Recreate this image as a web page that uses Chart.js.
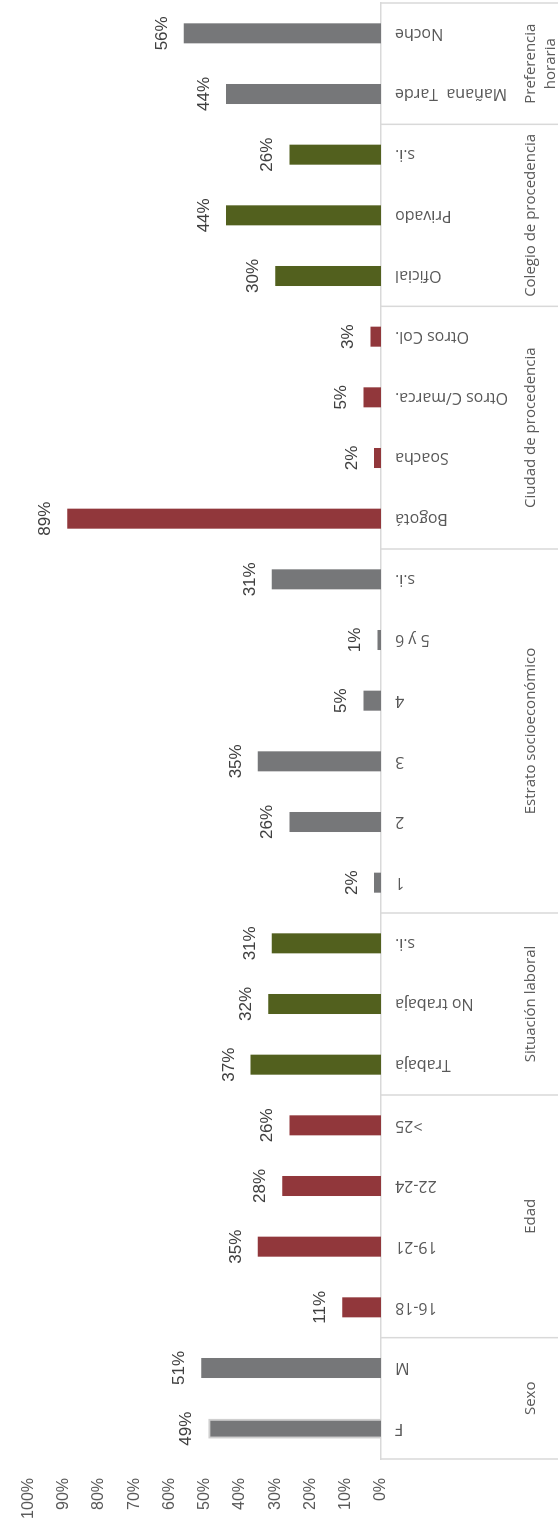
<!DOCTYPE html>
<html>
<head>
<meta charset="utf-8">
<script src="https://cdn.jsdelivr.net/npm/chart.js@4.4.0/dist/chart.umd.min.js"></script>
<style>
  html, body { margin: 0; padding: 0; overflow: hidden; background: #fff; width: 558px; height: 1529px; }
  /* el gráfico original es de columnas; la imagen está girada 90° a la izquierda */
  #marco { position: absolute; left: 0; top: 0; width: 1529px; height: 558px;
           transform-origin: 0 0; transform: translate(0, 1529px) rotate(-90deg); }
</style>
</head>
<body>
<div id="marco"><canvas id="graficoPerfil" width="1529" height="558"></canvas></div>
<script>
// Datos
const categorias = ['F', 'M', '16-18', '19-21', '22-24', '>25', 'Trabaja', 'No trabaja', 's.i.',
  '1', '2', '3', '4', '5 y 6', 's.i.', 'Bogotá', 'Soacha', 'Otros C/marca.', 'Otros Col.',
  'Oficial', 'Privado', 's.i.', 'Mañana  Tarde', 'Noche'];
const valores = [49, 51, 11, 35, 28, 26, 37, 32, 31, 2, 26, 35, 5, 1, 31, 89, 2, 5, 3, 30, 44, 26, 44, 56];
const grupos = ['Sexo', 'Edad', 'Situación laboral', 'Estrato socioeconómico',
  'Ciudad de procedencia', 'Colegio de procedencia', ['Preferencia', 'horaria']];
const tamanoGrupos = [2, 4, 3, 6, 4, 3, 2];
const ticksEje = [0, 10, 20, 30, 40, 50, 60, 70, 80, 90, 100];

const GRIS = '#767779', ROJO = '#91373b', VERDE = '#52601e';
const coloresGrupos = [GRIS, ROJO, VERDE, GRIS, ROJO, VERDE, GRIS];

// un color por barra según su grupo
const coloresBarras = [];
tamanoGrupos.forEach((n, g) => { for (let i = 0; i < n; i++) coloresBarras.push(coloresGrupos[g]); });
const bordes = valores.map((v, i) => i === 0 ? '#cfcfcf' : coloresBarras[i]);
const anchoBorde = valores.map((v, i) => i === 0 ? 2 : 0);

// Etiquetas de valor sobre cada columna
const etiquetasValor = {
  id: 'etiquetasValor',
  afterDatasetsDraw(chart) {
    const ctx = chart.ctx;
    const meta = chart.getDatasetMeta(0);
    ctx.save();
    ctx.font = '17px "Liberation Sans", Arial, sans-serif';
    ctx.fillStyle = '#404040';
    ctx.textAlign = 'center';
    ctx.textBaseline = 'alphabetic';
    meta.data.forEach((barra, i) => {
      ctx.fillText(valores[i] + '%', barra.x, barra.y - 17);
    });
    ctx.restore();
  }
};

// Segundo nivel del eje de categorías (grupos y separadores)
const ejeMultinivel = {
  id: 'ejeMultinivel',
  afterDraw(chart) {
    const { ctx, chartArea } = chart;
    const x = chart.scales.x;
    const paso = x.getPixelForValue(1) - x.getPixelForValue(0);
    const borde = k => x.getPixelForValue(0) + (k - 0.5) * paso;
    const arriba = chartArea.bottom, abajo = chart.height;
    ctx.save();
    ctx.strokeStyle = '#d9d9d9';
    ctx.lineWidth = 1.5;
    ctx.font = '15px "Open Sans", sans-serif';
    ctx.fillStyle = '#595959';
    ctx.textAlign = 'center';
    ctx.textBaseline = 'middle';
    let k = 0;
    const lineaEn = px => { ctx.beginPath(); ctx.moveTo(px, arriba); ctx.lineTo(px, abajo); ctx.stroke(); };
    lineaEn(borde(0));
    grupos.forEach((nombre, g) => {
      const ini = borde(k);
      k += tamanoGrupos[g];
      const fin = borde(k);
      lineaEn(fin);
      const lineas = Array.isArray(nombre) ? nombre : [nombre];
      lineas.forEach((t, j) => ctx.fillText(t, (ini + fin) / 2, 531 + j * 20));
    });
    ctx.restore();
  }
};

const ctxPerfil = document.getElementById('graficoPerfil').getContext('2d');
new Chart(ctxPerfil, {
  type: 'bar',
  data: {
    labels: categorias,
    datasets: [{
      data: valores,
      backgroundColor: coloresBarras,
      borderColor: bordes,
      borderWidth: anchoBorde,
      categoryPercentage: 1,
      barPercentage: 0.33
    }]
  },
  options: {
    responsive: false,
    animation: false,
    layout: { padding: { top: 19, right: 3, left: 0, bottom: 0 } },
    plugins: { legend: { display: false }, tooltip: { enabled: false } },
    scales: {
      x: {
        grid: { display: false, drawTicks: false },
        border: { display: true, color: '#d9d9d9', width: 1.5 },
        ticks: {
          autoSkip: false, minRotation: 90, maxRotation: 90, padding: 14,
          color: '#595959', font: { family: '"Open Sans", sans-serif', size: 16 }
        },
        afterFit(scale) { scale.height = 177; }
      },
      y: {
        min: 0, max: 100,
        grid: { display: false, drawTicks: false },
        border: { display: false },
        afterBuildTicks(scale) { scale.ticks = ticksEje.map(v => ({ value: v })); },
        ticks: {
          padding: 19,
          color: '#595959',
          font: { family: '"Liberation Sans", Arial, sans-serif', size: 16 },
          callback: v => v + '%'
        },
        afterFit(scale) { scale.width = 70; }
      }
    }
  },
  plugins: [etiquetasValor, ejeMultinivel]
});
</script>
</body>
</html>
